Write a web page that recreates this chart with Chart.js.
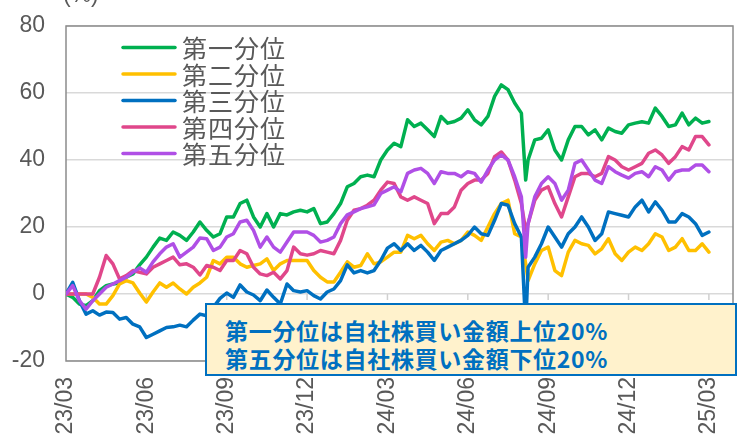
<!DOCTYPE html>
<html><head><meta charset="utf-8">
<script src="https://cdn.jsdelivr.net/npm/chart.js@4"></script>
<style>
html,body{margin:0;padding:0;background:#fff;}
#wrap{position:relative;width:742px;height:437px;overflow:hidden;background:#fff;}
#note{position:absolute;left:205px;top:303px;width:532px;height:73px;box-sizing:border-box;border:2px solid #0070C0;background:#FFF2CC;color:#0070C0;font-family:"Noto Sans CJK JP",sans-serif;font-weight:bold;font-size:23px;line-height:28px;letter-spacing:0.7px;padding:11px 0 0 18px;white-space:nowrap;}
</style></head>
<body>
<div id="wrap">
<canvas id="c" width="742" height="437"></canvas>
<div id="note">第一分位は自社株買い金額上位20%<br>第五分位は自社株買い金額下位20%</div>
</div>
<script>
// x position of each observation, in months since 2023/03
const months = [0,0.25,0.5,0.75,1,1.25,1.5,1.75,2,2.25,2.5,2.75,3,3.25,3.5,3.75,4,4.25,4.5,4.75,5,5.25,5.5,5.75,6,6.25,6.5,6.75,7,7.25,7.5,7.75,8,8.25,8.5,8.75,9,9.25,9.5,9.75,10,10.25,10.5,10.75,11,11.25,11.5,11.75,12,12.25,12.5,12.75,13,13.25,13.5,13.75,14,14.25,14.5,14.75,15,15.25,15.5,15.75,16,16.25,16.5,16.75,17,17.16,17.25,17.5,17.75,18,18.25,18.5,18.75,19,19.25,19.5,19.75,20,20.25,20.5,20.75,21,21.25,21.5,21.75,22,22.25,22.5,22.75,23,23.25,23.5,23.75,24];

const tickMonths = [0,3,6,9,12,15,18,21,24];
const tickLabels = ['23/03','23/06','23/09','23/12','24/03','24/06','24/09','24/12','25/03'];
const yTicks = [-20,0,20,40,60,80];

const seriesNames = ['第一分位','第二分位','第三分位','第四分位','第五分位'];
const seriesColors = ['#00B050','#FFC000','#0070C0','#E0478B','#B04FE6'];

const q1 = [0,-1,-3,-3.5,-2,1,2.5,3,3.3,5,
 6,8.7,11,14,16.7,16,18.5,17.5,16,18.5,
 21.5,19,17,18,23,23,27,28,23,20,
 24,20,24,23.6,24.5,25,24.5,25.5,21,21.5,
 24,27,32,33,35,35.5,35,40,43,45,
 44,52,50,51,49,47,53,51,51.5,52.5,
 55,52,50.5,53,59,62.4,61,57,54,
 34,
 40,46,46.5,49,43,40,46,50,50,47.5,
 49,46,49.5,48.5,48,50.5,51,51.4,51,55.5,
 53,50,50.5,54,50.5,52.5,51,51.5];

const q2 = [0,0,0,0,-1,-3,-3,-0.5,3,4,
 3.3,0.3,-2.4,0.6,3.3,2,3.3,1.5,0,2,
 3.3,5,10,9,11,11,9,8,8.5,9,
 10.5,7,9,10,10,10,10,7,5,3.6,
 3.6,6.5,9.6,8,8.5,12,9,9.6,11,12.5,
 12.5,17.5,16.5,17.5,15,13,15.5,16,15,16,
 18.5,17.5,16,20,24,27,28,18,17,
 9,
 4,9,13,14,7,5.5,12.5,16,15,14.5,
 12,13.5,16.5,12,10,12.5,14,13,15,18,
 17,13,14,16.5,13,13,15,12.5];

const q3 = [0,3.5,-2,-6,-5,-6.3,-5.4,-5.5,-7.5,-7,
 -9,-9.8,-13,-12,-11,-10,-9.8,-9.3,-9.8,-7.8,
 -6,-6.5,-4,-1.3,0.3,-1,2.7,0.6,-0.3,-2,
 1.2,-1,-3,3,1,0.6,1,-0.5,-1.5,0.6,
 1.5,4,8.7,6.3,7,6.3,7,10,13.7,15,
 13,15,13,14.5,12.5,10,13,14,15,16,
 17.5,20,18,17.5,22,27,26.5,21,17,
 -10,
 8,11,15,20,17,14,18,20,23,20,
 16,18,24.5,24,23.5,23,26,28,24.5,27.5,
 25,21.5,21.5,24,23,21,17.5,18.5];

const q4 = [0,0,0,0,0,5,11.5,9,4.5,5.5,
 7,6.5,6,8,9,10,11,8.7,9,8,
 5.7,8.5,8,7,10,10,13,12,8,6,
 5.5,6.5,4.5,7,14,12,11.6,12,13,12.5,
 12,16,22,25,25.5,26.5,28,31,33.4,33,
 29,28,29,28,27,21,24,24,26,31,
 33,34,34,36,41,42.4,40,34,27,
 19,
 21,28,31,32,27,23,29,35,36,36,
 35,36,41,40,38,37,38,39,42,43,
 41.5,39,41,44,43,47,47,44.5];

const q5 = [0,2.5,-2,-4.5,-2,0,2,3,4,5,
 6.5,7.8,6.5,9.6,12,14,15,11,12.5,14,
 16.7,16.5,13,14,17,18,21.5,22,19,14,
 17,14,12.5,15.5,18.5,18.5,18.5,17.5,15.5,16,
 17,21,23.6,24.5,25.5,26,26.6,30,31,32,
 30.5,36,37,37.5,36,33,36.5,36,36,35,
 36.5,36,33.4,37,40,41.5,40,35,29,
 11,
 21,29,33,35,33,28,31,39,40,37,
 34,33,38,36.5,35.5,34.6,36,36.5,35,38,
 37,34,36.5,37,37,38.5,38.5,36.5];

const seriesValues = [q1,q2,q3,q4,q5];

const TEXT = '#595959';
const LATIN = '"Liberation Sans", Arial, sans-serif';
const CJK = '"Noto Sans CJK JP", sans-serif';

const framePlugin = {
  id:'frame',
  beforeDatasetsDraw(chart){
    const {ctx, chartArea:a, scales} = chart;
    const y0 = scales.y.getPixelForValue(0);
    ctx.save();
    ctx.strokeStyle = '#d0d0d0';
    ctx.lineWidth = 1.5;
    tickMonths.forEach(m=>{
      const x = scales.x.getPixelForValue(m);
      ctx.beginPath(); ctx.moveTo(x, y0); ctx.lineTo(x, y0+6); ctx.stroke();
    });
    ctx.strokeStyle = '#8c8c8c';
    ctx.lineWidth = 1.5;
    ctx.strokeRect(a.left, a.top, a.right-a.left, a.bottom-a.top);
    ctx.restore();
  },
  afterDraw(chart){
    const {ctx} = chart;
    ctx.save();
    ctx.fillStyle = TEXT;
    ctx.font = '23px ' + LATIN;
    ctx.textBaseline = 'alphabetic';
    ctx.textAlign = 'left';
    ctx.fillText('(%)', 63, 2);
    const rows = [47.5, 74, 100.5, 127, 153.5];
    chart.data.datasets.forEach((ds,i)=>{
      const y = rows[i];
      ctx.strokeStyle = ds.borderColor;
      ctx.lineWidth = 3.5;
      ctx.lineCap = 'round';
      ctx.beginPath(); ctx.moveTo(123, y); ctx.lineTo(175, y); ctx.stroke();
      ctx.fillStyle = TEXT;
      ctx.font = '25px ' + CJK;
      ctx.letterSpacing = '1px';
      ctx.textBaseline = 'middle';
      ctx.fillText(ds.label, 182, y+1);
      ctx.letterSpacing = '0px';
    });
    ctx.restore();
  }
};

new Chart(document.getElementById('c'), {
  type:'line',
  data:{
    datasets: seriesNames.map((name,k)=>({
      label:name,
      data: months.map((m,i)=>({x:m, y:seriesValues[k][i]})),
      borderColor: seriesColors[k],
      backgroundColor: seriesColors[k],
      borderWidth: 3.5,
      pointRadius: 0,
      tension: 0,
      borderJoinStyle:'round',
      borderCapStyle:'round',
      order: 5-k
    }))
  },
  options:{
    responsive:false,
    animation:false,
    devicePixelRatio:1,
    layout:{padding:{left:0,right:9,top:26,bottom:0}},
    plugins:{legend:{display:false}, tooltip:{enabled:false}},
    scales:{
      x:{
        type:'linear', min:0, max:24.9,
        afterBuildTicks(s){ s.ticks = tickMonths.map(v=>({value:v})); },
        afterFit(s){ s.height = 76; s.paddingLeft = 0; s.paddingRight = 0; },
        grid:{display:false, drawTicks:false},
        border:{display:false},
        ticks:{autoSkip:false, minRotation:90, maxRotation:90, padding:16, color:TEXT,
          font:{family:LATIN, size:23},
          callback:(v,i)=>tickLabels[i]}
      },
      y:{
        min:-20, max:80,
        afterBuildTicks(s){ s.ticks = yTicks.map(v=>({value:v})); },
        afterFit(s){ s.width = 66; s.paddingTop = 0; s.paddingBottom = 0; },
        grid:{color:'#d9d9d9', lineWidth:1.5, drawTicks:false},
        border:{display:false},
        ticks:{padding:21, color:TEXT, font:{family:LATIN, size:23}}
      }
    }
  },
  plugins:[framePlugin]
});
</script>
</body></html>
